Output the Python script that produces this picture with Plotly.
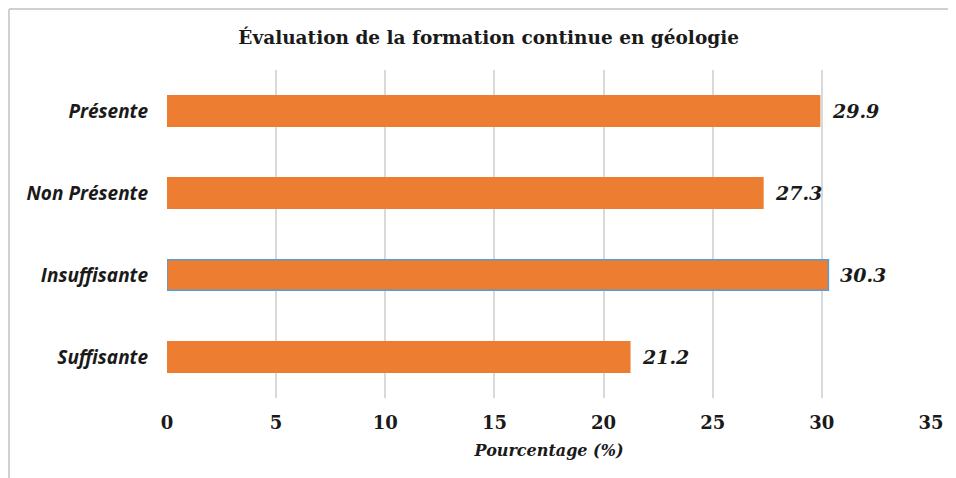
import plotly.graph_objects as go

categories = ["Suffisante", "Insuffisante", "Non Présente", "Présente"]
values = [21.2, 30.3, 27.3, 29.9]
line_colors = ["#ED7D31", "#5B9BD5", "#ED7D31", "#ED7D31"]
tick_vals = [0, 5, 10, 15, 20, 25, 30, 35]

W, H = 948, 470
L, R, T, B = 159, 25, 62, 80
PW, PH = W - L - R, H - T - B

fig = go.Figure()
fig.add_trace(go.Bar(
    y=categories, x=values, orientation="h",
    marker=dict(color="#ED7D31", line=dict(color=line_colors, width=1.5)),
    width=0.37, hoverinfo="skip",
))

for c, v in zip(categories, values):
    fig.add_annotation(x=v, y=c, xref="x", yref="y", text=f"{v:.1f}",
                       showarrow=False, xanchor="left", xshift=10,
                       font=dict(family="DejaVu Serif", size=19, color="#1a1a1a",
                                 style="italic", weight="bold"))

fig.update_layout(
    width=W, height=H,
    margin=dict(l=L, r=R, t=T, b=B),
    paper_bgcolor="white", plot_bgcolor="white",
    showlegend=False,
    title=dict(text="Évaluation de la formation continue en géologie",
               x=0.507, xanchor="center", xref="container", y=0.938, yanchor="middle",
               font=dict(family="DejaVu Serif", size=18.5, color="#1a1a1a", weight="bold")),
    xaxis=dict(range=[0, 35], tickvals=tick_vals, showgrid=True, gridcolor="#d9d9d9",
               gridwidth=2, zeroline=False, showline=False, ticks="",
               tickfont=dict(family="DejaVu Serif", size=18, color="#1a1a1a", weight="bold"),
               ticklabelstandoff=12, automargin=False,
               title=dict(text="Pourcentage (%)", standoff=12,
                          font=dict(family="DejaVu Serif", size=16, color="#1a1a1a",
                                    style="italic", weight="bold"))),
    yaxis=dict(categoryorder="array", categoryarray=categories, showgrid=False,
               zeroline=False, showline=False, ticks="", automargin=False,
               tickfont=dict(family="Open Sans", size=19, color="#1a1a1a",
                             style="italic", weight="bold"),
               ticklabelstandoff=18),
    shapes=[
        dict(type="line", xref="paper", yref="paper",
             x0=(1 - L) / PW, x1=(W - L) / PW, y0=1 + (T - 1) / PH, y1=1 + (T - 1) / PH,
             line=dict(color="#d0d0d0", width=2)),
        dict(type="line", xref="paper", yref="paper",
             x0=(1 - L) / PW, x1=(1 - L) / PW, y0=1 + (T - 1) / PH, y1=1 - (H - T) / PH,
             line=dict(color="#d0d0d0", width=2)),
    ],
)

fig.write_html("out.html")
